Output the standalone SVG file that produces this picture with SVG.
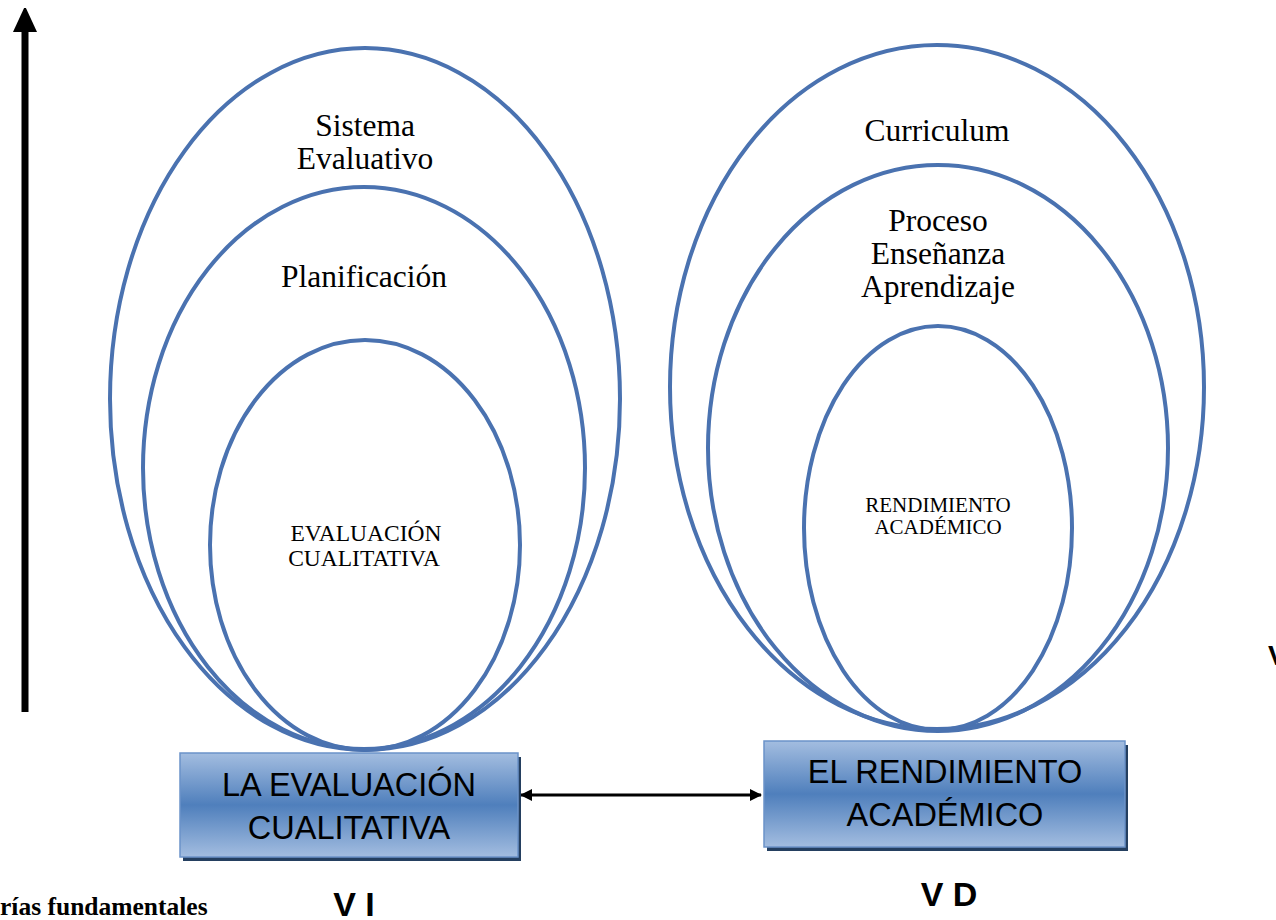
<svg xmlns="http://www.w3.org/2000/svg" width="1276" height="920" viewBox="0 0 1276 920">
<style>
.ell{fill:none;stroke:#4a72b0;stroke-width:4}
.serif{font-family:"Liberation Serif",serif;fill:#000;text-anchor:middle}
.big{font-size:31.5px}
.small{font-size:23.5px}
.small2{font-size:21px}
.box{font-family:"Liberation Sans",sans-serif;font-size:32.5px;fill:#000;text-anchor:middle}
.lab{font-family:"Liberation Sans",sans-serif;font-size:34px;font-weight:bold;fill:#000;text-anchor:middle}
</style>
<defs>
<linearGradient id="g" x1="0" y1="0" x2="0" y2="1">
<stop offset="0" stop-color="#a3bde0"/>
<stop offset="0.5" stop-color="#4f7fbc"/>
<stop offset="1" stop-color="#a3bde0"/>
</linearGradient>
<marker id="ah" markerWidth="12" markerHeight="12" refX="11" refY="6" orient="auto-start-reverse" markerUnits="userSpaceOnUse"><path d="M0,0 L12,6 L0,12 Z" fill="#000"/></marker>
<marker id="up" markerWidth="24" markerHeight="28" refX="2" refY="12" orient="auto" markerUnits="userSpaceOnUse"><path d="M0,0 L26,12 L0,24 Z" fill="#000"/></marker>
</defs>
<rect width="1276" height="920" fill="#fff"/>
<g id="connectors">
<line x1="25" y1="712" x2="25" y2="30" stroke="#000" stroke-width="7" marker-end="url(#up)"/>
<line x1="521" y1="795" x2="761" y2="795" stroke="#000" stroke-width="3" marker-start="url(#ah)" marker-end="url(#ah)"/>
</g>
<g id="sistema">
<ellipse class="ell" cx="365" cy="399" rx="255" ry="351"/>
<text class="serif big" x="365" y="136">Sistema</text>
<text class="serif big" x="365" y="169">Evaluativo</text>
</g>
<g id="planificacion">
<ellipse class="ell" cx="364" cy="468" rx="221" ry="281"/>
<text class="serif big" x="364" y="287">Planificación</text>
</g>
<g id="evaluacion">
<ellipse class="ell" cx="365" cy="545" rx="155" ry="205"/>
<text class="serif small" x="366" y="541">EVALUACIÓN</text>
<text class="serif small" x="364" y="566">CUALITATIVA</text>
</g>
<g id="curriculum">
<ellipse class="ell" cx="937" cy="387" rx="267" ry="342"/>
<text class="serif big" x="937" y="141">Curriculum</text>
</g>
<g id="proceso">
<ellipse class="ell" cx="938" cy="448" rx="230" ry="283"/>
<text class="serif big" x="938" y="231">Proceso</text>
<text class="serif big" x="938" y="264">Enseñanza</text>
<text class="serif big" x="938" y="297">Aprendizaje</text>
</g>
<g id="rendimiento">
<ellipse class="ell" cx="938" cy="528" rx="134" ry="202"/>
<text class="serif small2" x="938" y="512">RENDIMIENTO</text>
<text class="serif small2" x="938" y="534">ACADÉMICO</text>
</g>
<g id="box-vi">
<rect x="183" y="757" width="338" height="104" fill="#243f60"/>
<rect x="180" y="753" width="338" height="104" fill="url(#g)" stroke="#6b93c9" stroke-width="1.5"/>
<text class="box" x="349" y="796">LA EVALUACIÓN</text>
<text class="box" x="349" y="839">CUALITATIVA</text>
</g>
<g id="box-vd">
<rect x="767" y="745" width="361" height="106" fill="#243f60"/>
<rect x="764" y="741" width="361" height="106" fill="url(#g)" stroke="#6b93c9" stroke-width="1.5"/>
<text class="box" x="945" y="783">EL RENDIMIENTO</text>
<text class="box" x="945" y="826">ACADÉMICO</text>
</g>
<g id="labels">
<text class="lab" x="354" y="916">V I</text>
<text class="lab" x="949" y="906">V D</text>
<text x="0" y="915" font-family="Liberation Serif,serif" font-size="25.5" font-weight="bold" fill="#000">rías fundamentales</text>
<text x="1268" y="665" font-family="Liberation Sans,sans-serif" font-size="28" font-weight="bold" fill="#000">V</text>
</g>
</svg>
